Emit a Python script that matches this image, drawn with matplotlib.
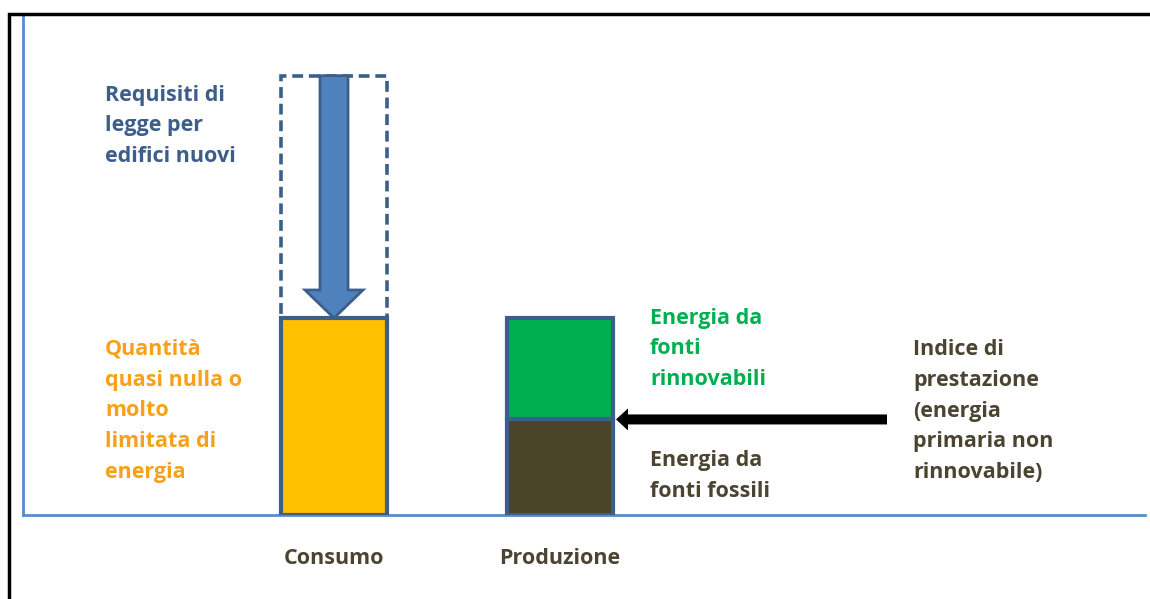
import matplotlib.pyplot as plt
from matplotlib.patches import Rectangle, FancyArrow

plt.rcParams['font.family'] = ['Open Sans', 'DejaVu Sans']

# data (heights relative to the consumo bar)
categories = ['Consumo', 'Produzione']
consumo = 1.0
requisiti = 2.23
fossili = 0.485
rinnovabili = 0.515

blu_bordo = '#3b5e8c'
blu_freccia = '#4f81bd'
asse = '#5b8bc9'
giallo = '#ffc000'
verde = '#00b050'
scuro = '#4a452a'
arancio = '#f7a11a'
testo_scuro = '#4a4430'

fig = plt.figure(figsize=(11.5, 5.99), dpi=100)
ax = fig.add_axes([23 / 1150, 1 - 515 / 599, 1122 / 1150, 501 / 599])

px_x = 226.0  # pixels per category unit
px_y = 197.0
ax.set_xlim((23 - 334) / px_x, (1145 - 334) / px_x)
ax.set_ylim(0, 501 / px_y)

w = 106 / px_x
x_cons, x_prod = 0, 1

# dashed box for the legal requirement
ax.add_patch(Rectangle((x_cons - w / 2, consumo), w, requisiti - consumo, fill=False,
                       edgecolor=blu_bordo, lw=2.6, linestyle=(0, (3, 1.6)), zorder=2))
# consumo bar
ax.bar(x_cons, consumo, width=w, color=giallo, edgecolor=blu_bordo, linewidth=3, zorder=3)
# produzione stacked bar
ax.bar(x_prod, fossili, width=w, color=scuro, edgecolor=blu_bordo, linewidth=3, zorder=3)
ax.bar(x_prod, rinnovabili, bottom=fossili, width=w, color=verde, edgecolor=blu_bordo,
       linewidth=3, zorder=3)

# downward blue arrow
ax.add_patch(FancyArrow(x_cons, requisiti, 0, -(requisiti - consumo), width=28 / px_x,
                        head_width=58 / px_x, head_length=28 / px_y,
                        length_includes_head=True, facecolor=blu_freccia,
                        edgecolor=blu_bordo, lw=2, zorder=4))
# black arrow pointing at the split between fossil and renewable
x_start = (887 - 334) / px_x
x_end = x_prod + w / 2 + 3 / px_x
ax.add_patch(FancyArrow(x_start, fossili, x_end - x_start, 0, width=10 / px_y,
                        head_width=22 / px_y, head_length=12 / px_x,
                        length_includes_head=True, color='black', lw=0, zorder=5))

ax.set_xticks([])
ax.set_yticks([])
for s in ['top', 'right']:
    ax.spines[s].set_visible(False)
for s in ['left', 'bottom']:
    ax.spines[s].set_color(asse)
    ax.spines[s].set_linewidth(2)

fs = 15.5
ls = 1.62


def ftext(xp, yp, s, color, **kw):
    fig.text(xp / 1150, 1 - yp / 599, s, color=color, fontsize=fs, fontweight='bold',
             linespacing=ls, va='center', **kw)


ftext(105, 126, 'Requisiti di\nlegge per\nedifici nuovi', blu_bordo)
ftext(105, 411, 'Quantità\nquasi nulla o\nmolto\nlimitata di\nenergia', arancio)
ftext(650, 349, 'Energia da\nfonti\nrinnovabili', verde)
ftext(650, 476, 'Energia da\nfonti fossili', testo_scuro)
ftext(913, 411, 'Indice di\nprestazione\n(energia\nprimaria non\nrinnovabile)', testo_scuro)

for xc, lab in zip([x_cons, x_prod], categories):
    ax.text(xc, -44 / px_y, lab, ha='center', va='center', color=testo_scuro,
            fontsize=fs, fontweight='bold')

# black frame around the picture
fig.patches.append(Rectangle((9 / 1150, -0.05), 1.1, 1 - 14 / 599 + 0.05, fill=False,
                             edgecolor='black', lw=2.5, transform=fig.transFigure))

fig.savefig('out.png', dpi=100)
